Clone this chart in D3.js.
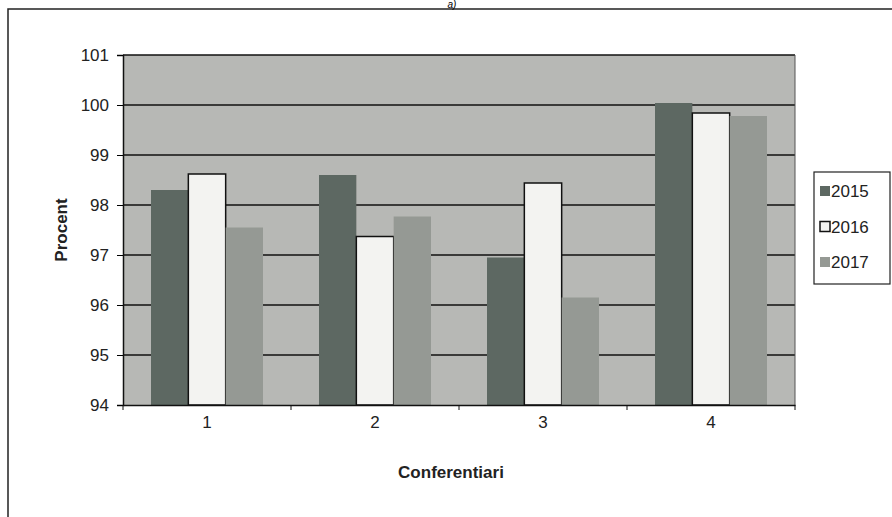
<!DOCTYPE html>
<html>
<head>
<meta charset="utf-8">
<script src="https://cdn.jsdelivr.net/npm/d3@7"></script>
<style>
  body { margin: 0; background: #fff; }
  svg { font-family: Arial, "Liberation Sans", sans-serif; }
</style>
</head>
<body>
<svg width="892" height="517"></svg>
<script>
let categories = ["1", "2", "3", "4"]
let years = ["2015", "2016", "2017"]
let values2015 = [98.3, 98.6, 96.95, 100.04]
let values2016 = [98.62, 97.37, 98.44, 99.84]
let values2017 = [97.55, 97.77, 96.15, 99.78]
let yTicks = [94, 95, 96, 97, 98, 99, 100, 101]
let colors = ["#5d6862", "#f3f3f1", "#959994"]

let series = [values2015, values2016, values2017]
let svg = d3.select("svg")
let plotLeft = 123, plotRight = 795, plotTop = 55, plotBottom = 405
let fontSize = 17

// outer frame (only top and left edges show in the scan)
svg.append("path")
  .attr("d", "M8,517 L8,9 L892,9")
  .attr("fill", "none").attr("stroke", "#222").attr("stroke-width", 1.5)

svg.append("text")
  .attr("x", 452).attr("y", 8)
  .attr("font-size", 10).attr("font-style", "italic")
  .attr("text-anchor", "middle").text("a)")

let y = d3.scaleLinear().domain([94, 101]).range([plotBottom, plotTop])
let x = d3.scaleBand().domain(categories).range([plotLeft, plotRight])
let xi = d3.scaleBand().domain(years).range([0, x.bandwidth()]).paddingInner(0).paddingOuter(0.75)

svg.append("rect")
  .attr("x", plotLeft).attr("y", plotTop)
  .attr("width", plotRight - plotLeft).attr("height", plotBottom - plotTop)
  .attr("fill", "#b7b8b5")

svg.append("g").selectAll("line")
  .data(yTicks.slice(1))
  .join("line")
  .attr("x1", plotLeft).attr("x2", plotRight)
  .attr("y1", d => y(d)).attr("y2", d => y(d))
  .attr("stroke", "#111").attr("stroke-width", 1.4)

svg.append("g").selectAll("g")
  .data(series)
  .join("g")
  .attr("fill", (d, i) => colors[i])
  .attr("stroke", (d, i) => i == 1 ? "#111" : "none")
  .attr("stroke-width", 1.5)
  .selectAll("rect")
  .data((d, i) => d.map((v, j) => ({ v: v, cat: categories[j], yr: years[i] })))
  .join("rect")
  .attr("x", d => x(d.cat) + xi(d.yr))
  .attr("width", xi.bandwidth())
  .attr("y", d => y(d.v))
  .attr("height", d => y(94) - y(d.v))

// right edge of plot
svg.append("line")
  .attr("x1", plotRight).attr("x2", plotRight).attr("y1", plotTop).attr("y2", plotBottom)
  .attr("stroke", "#555").attr("stroke-width", 1)

let yAxis = d3.axisLeft(y).tickValues(yTicks).tickFormat(d3.format("d")).tickSize(6).tickPadding(8)
let yAxisG = svg.append("g").attr("transform", `translate(${plotLeft},0)`).call(yAxis)
yAxisG.attr("font-size", fontSize).attr("font-family", null)
yAxisG.selectAll("text").attr("fill", "#222")

let xAxis = d3.axisBottom(x).tickSize(0).tickPadding(11)
let xAxisG = svg.append("g").attr("transform", `translate(0,${plotBottom})`).call(xAxis)
xAxisG.attr("font-size", fontSize).attr("font-family", null)
xAxisG.selectAll("text").attr("fill", "#222")

// small ticks between categories
svg.append("g").selectAll("line")
  .data(d3.range(categories.length + 1))
  .join("line")
  .attr("x1", i => plotLeft + i * x.step()).attr("x2", i => plotLeft + i * x.step())
  .attr("y1", plotBottom).attr("y2", plotBottom + 5)
  .attr("stroke", "#111")

svg.selectAll(".domain").attr("stroke", "#111").attr("stroke-width", 1.5)

svg.append("text")
  .attr("transform", "translate(67,230) rotate(-90)")
  .attr("text-anchor", "middle")
  .attr("font-size", fontSize).attr("font-weight", "bold").attr("fill", "#222")
  .text("Procent")

svg.append("text")
  .attr("x", 451).attr("y", 478)
  .attr("text-anchor", "middle")
  .attr("font-size", fontSize).attr("font-weight", "bold").attr("fill", "#222")
  .text("Conferentiari")

// legend
let legend = svg.append("g")
legend.append("rect")
  .attr("x", 814).attr("y", 172).attr("width", 76).attr("height", 112)
  .attr("fill", "#fff").attr("stroke", "#222").attr("stroke-width", 1.2)
let items = legend.selectAll("g")
  .data(years)
  .join("g")
  .attr("transform", (d, i) => `translate(820,${191 + i * 35.5})`)
items.append("rect")
  .attr("x", 0).attr("y", -5).attr("width", 10).attr("height", 10)
  .attr("fill", (d, i) => colors[i])
  .attr("stroke", (d, i) => i == 1 ? "#111" : "none").attr("stroke-width", 1.5)
items.append("text")
  .attr("x", 11).attr("y", 6)
  .attr("font-size", fontSize).attr("fill", "#222")
  .text(d => d)
</script>
</body>
</html>
